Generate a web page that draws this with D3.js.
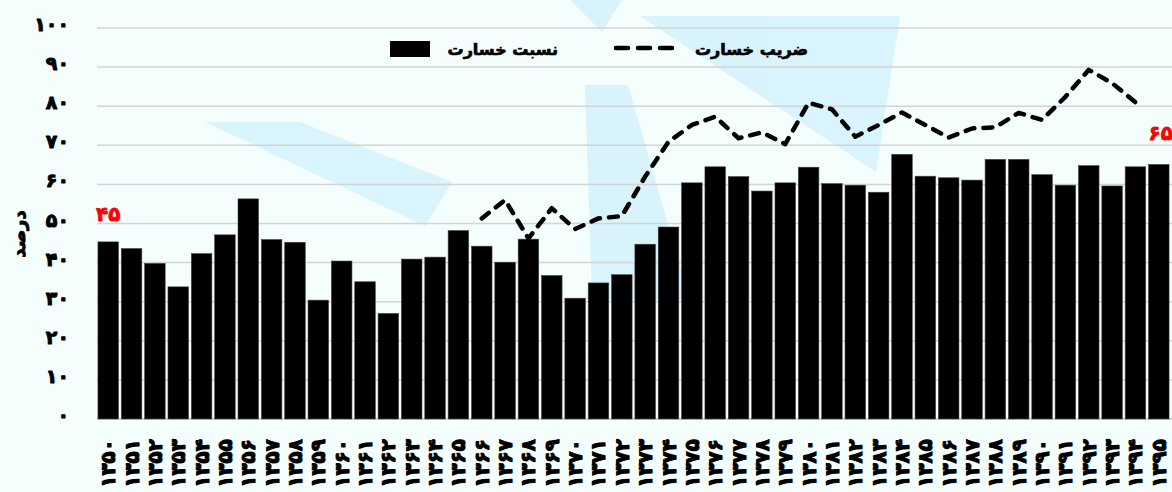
<!DOCTYPE html>
<html>
<head>
<meta charset="utf-8">
<script src="https://cdn.jsdelivr.net/npm/d3@7"></script>
<style>
  body { margin: 0; background: #f4fffd; }
  svg { display: block; }
  text { font-family: "DejaVu Sans", sans-serif; font-weight: bold; stroke-linejoin: round; }
</style>
</head>
<body>
<svg id="chart" width="1172" height="492"></svg>
<script>
// years 1350..1395
var years = d3.range(1350, 1396);

// loss ratio (bars), percent
var lossRatio = [45.3, 43.6, 39.8, 33.8, 42.3, 47.1, 56.3, 45.9, 45.2, 30.4,
                 40.4, 35.1, 27.0, 40.9, 41.4, 48.2, 44.2, 40.1, 46.0, 36.7,
                 30.9, 34.8, 36.9, 44.7, 49.1, 60.4, 64.5, 62.0, 58.3, 60.4,
                 64.4, 60.2, 59.8, 58.0, 67.7, 62.1, 61.7, 61.1, 66.4, 66.4,
                 62.5, 59.8, 64.8, 59.6, 64.5, 65.1];

// combined ratio (dashed line), 1366..1394
var lineYears = d3.range(1366, 1395);
var combinedRatio = [51.3, 56.0, 46.2, 53.9, 48.6, 51.3, 51.9, 62.0, 70.9, 75.2,
                     77.3, 71.8, 73.3, 70.3, 80.9, 79.2, 72.2, 75.2, 78.4, 75.2,
                     72.0, 74.3, 74.6, 78.3, 76.5, 82.4, 89.3, 85.9, 81.0];

var yTicks = [0, 10, 20, 30, 40, 50, 60, 70, 80, 90, 100];
var legendLabels = ["نسبت خسارت", "ضریب خسارت"];
var yTitle = "درصد";

function fa(n) {
    return String(n).replace(/[0-9]/g, function(c){ return "۰۱۲۳۴۵۶۷۸۹"[+c]; });
}

var svg = d3.select("#chart");
var width = 1172, height = 492;

svg.append("rect").attr("width", width).attr("height", height).attr("fill", "#f4fffd");

// faint watermark shapes
var wm = svg.append("g").attr("fill", "#c6ecfb").attr("opacity", 0.6);
wm.append("path").attr("d", "M205,122 L300,122 L452,182 L425,226 Z");
wm.append("path").attr("d", "M585,85 L628,85 L690,300 L592,300 Z");
wm.append("path").attr("d", "M640,16 L900,16 L876,172 Z");
wm.append("path").attr("d", "M570,0 L622,0 L602,32 Z");

var x = d3.scaleBand()
    .domain(years)
    .range([97, 1170])
    .paddingInner(0.12)
    .paddingOuter(0.04);

var y = d3.scaleLinear()
    .domain([0, 100])
    .range([419, 28]);

// gridlines
svg.append("g").selectAll("line")
    .data(yTicks.filter(function(d){ return d > 0; }))
    .enter()
    .append("line")
    .attr("x1", 97).attr("x2", width)
    .attr("y1", function(d){ return y(d); })
    .attr("y2", function(d){ return y(d); })
    .attr("stroke", "#d4d4d4")
    .attr("stroke-width", 1.5);

svg.append("line")
    .attr("x1", 97).attr("x2", width)
    .attr("y1", y(0)).attr("y2", y(0))
    .attr("stroke", "#c8c8c8").attr("stroke-width", 1.5);

// y tick labels
svg.append("g").selectAll("text")
    .data(yTicks)
    .enter()
    .append("text")
    .attr("x", 69)
    .attr("y", function(d){ return y(d) + 3; })
    .attr("text-anchor", "end")
    .attr("stroke", "#000").attr("stroke-width", 1)
    .style("font-size", "19px")
    .text(function(d){ return fa(d); });

// y title
svg.append("text")
    .attr("transform", "translate(25,234) rotate(-90)")
    .attr("text-anchor", "middle")
    .attr("stroke", "#000").attr("stroke-width", 0.9)
    .style("font-size", "18px")
    .text(yTitle);

// bars
svg.append("g").selectAll("rect")
    .data(lossRatio)
    .enter()
    .append("rect")
    .attr("x", function(d, i){ return x(years[i]); })
    .attr("y", function(d){ return y(d); })
    .attr("width", x.bandwidth())
    .attr("height", function(d){ return y(0) - y(d); })
    .attr("fill", "#000")
    .attr("stroke", "#444")
    .attr("stroke-width", 0.6);

// dashed line
var line = d3.line()
    .x(function(d, i){ return x(lineYears[i]) + x.bandwidth() / 2; })
    .y(function(d){ return y(d); });

svg.append("path")
    .datum(combinedRatio)
    .attr("d", line)
    .attr("fill", "none")
    .attr("stroke", "#000")
    .attr("stroke-width", 4.5)
    .attr("stroke-dasharray", "9,9")
    .attr("stroke-linecap", "round")
    .attr("stroke-linejoin", "round");

// x labels
svg.append("g").selectAll("text")
    .data(years)
    .enter()
    .append("text")
    .attr("transform", function(d){
        return "translate(" + (x(d) + x.bandwidth() / 2 + 7) + ",439) rotate(-90)";
    })
    .attr("text-anchor", "end")
    .attr("stroke", "#000").attr("stroke-width", 1)
    .style("font-size", "20px")
    .text(function(d){ return fa(d); });

// red end labels
var first = lossRatio[0], last = lossRatio[lossRatio.length - 1];
svg.append("text")
    .attr("x", x(years[0]) + x.bandwidth() / 2)
    .attr("y", y(first) - 21)
    .attr("text-anchor", "middle")
    .attr("fill", "#ff0000")
    .attr("stroke", "#ff0000").attr("stroke-width", 0.8)
    .style("font-size", "20px")
    .text(fa(Math.round(first)));

svg.append("text")
    .attr("x", x(years[years.length - 1]) + x.bandwidth() / 2 + 2)
    .attr("y", y(last) - 24)
    .attr("text-anchor", "middle")
    .attr("fill", "#ff0000")
    .attr("stroke", "#ff0000").attr("stroke-width", 0.8)
    .style("font-size", "20px")
    .text(fa(Math.round(last)));

// legend
var lg = svg.append("g");
lg.append("rect")
    .attr("x", 390).attr("y", 41).attr("width", 40).attr("height", 16)
    .attr("fill", "#000");
lg.append("text")
    .attr("x", 558).attr("y", 55)
    .attr("text-anchor", "end")
    .attr("stroke", "#000").attr("stroke-width", 0.7)
    .style("font-size", "16px")
    .text(legendLabels[0]);
lg.append("line")
    .attr("x1", 616).attr("x2", 682)
    .attr("y1", 48).attr("y2", 48)
    .attr("stroke", "#000")
    .attr("stroke-width", 4.5)
    .attr("stroke-dasharray", "12,10")
    .attr("stroke-linecap", "round");
lg.append("text")
    .attr("x", 808).attr("y", 55)
    .attr("text-anchor", "end")
    .attr("stroke", "#000").attr("stroke-width", 0.7)
    .style("font-size", "16px")
    .text(legendLabels[1]);
</script>
</body>
</html>
